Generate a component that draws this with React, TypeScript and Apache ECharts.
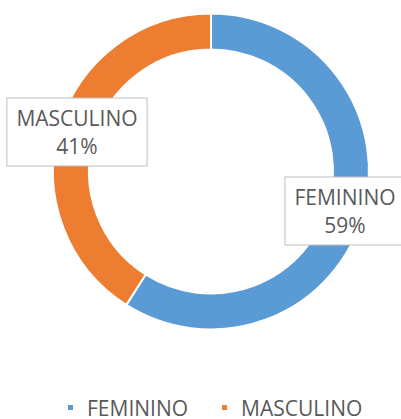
import React, { useEffect, useRef } from "react";
import * as echarts from "echarts";

const categories = ["FEMININO", "MASCULINO"];
const values = [59, 41];
const colors = ["#5B9BD5", "#ED7D31"];

export default function App() {
  const ref = useRef<HTMLDivElement>(null);
  useEffect(() => {
    if (!ref.current) return;
    const chart = echarts.init(ref.current, null, { renderer: "svg" });
    const labelPos = [
      { x: 345, y: 211 },
      { x: 77, y: 132 },
    ];
    chart.setOption({
      animation: false,
      backgroundColor: "#ffffff",
      textStyle: { fontFamily: "Open Sans" },
      legend: {
        data: categories,
        top: 392,
        left: 61,
        icon: "rect",
        itemWidth: 7,
        itemHeight: 7,
        itemGap: 32,
        textStyle: {
          fontSize: 21,
          color: "#595959",
          fontFamily: "Open Sans",
          lineHeight: 20,
          padding: [0, 0, 0, 8],
        },
      },
      series: [
        {
          type: "pie",
          center: [211, 171.5],
          radius: [122, 158],
          startAngle: 90,
          clockwise: true,
          itemStyle: { borderColor: "#ffffff", borderWidth: 2 },
          data: categories.map((c, i) => ({
            name: c,
            value: values[i],
            itemStyle: { color: colors[i] },
          })),
          label: {
            show: true,
            position: "inside",
            formatter: "{b}\n{d}%",
            fontSize: 21,
            lineHeight: 28,
            color: "#595959",
            fontFamily: "Open Sans",
            align: "center",
            verticalAlign: "middle",
            backgroundColor: "#ffffff",
            borderColor: "#BFBFBF",
            borderWidth: 1,
            padding: [6, 9, 5, 9],
          },
          labelLine: { show: false },
          labelLayout: (params: any) => ({
            x: labelPos[params.dataIndex].x,
            y: labelPos[params.dataIndex].y,
            align: "center",
            verticalAlign: "middle",
          }),
          emphasis: { disabled: true },
        },
      ],
    });
    return () => chart.dispose();
  }, []);
  return (
    <div
      ref={ref}
      style={{ position: "absolute", left: 0, top: 0, width: 401, height: 419 }}
    />
  );
}
